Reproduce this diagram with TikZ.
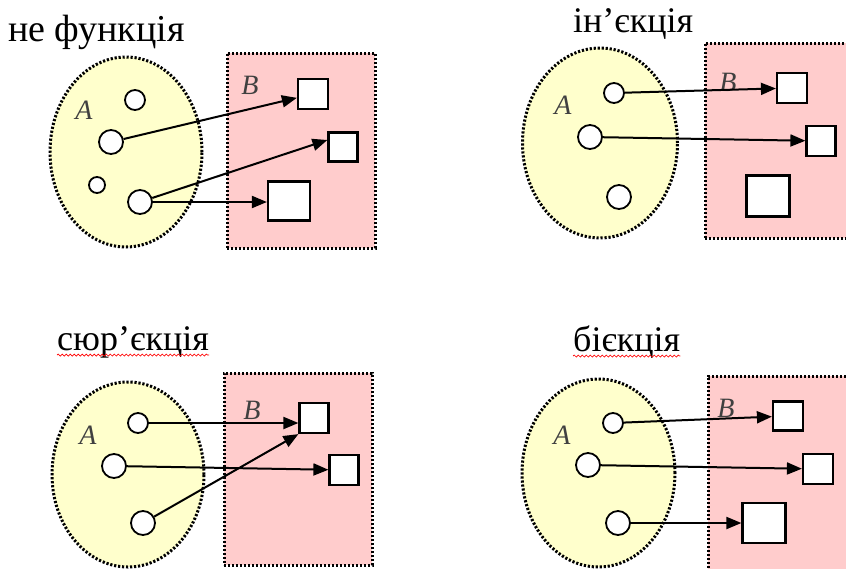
\documentclass[tikz,border=0pt]{standalone}
\usepackage{fontspec}
\newfontfamily\tnr{LiberationSerif}[Extension=.ttf,UprightFont=*-Regular,ItalicFont=*-Italic,BoldFont=*-Bold]
\usetikzlibrary{arrows.meta,calc,decorations.pathmorphing,shapes.geometric}
\definecolor{setyellow}{RGB}{255,255,204}
\definecolor{setpink}{RGB}{255,204,204}
\definecolor{labgray}{RGB}{64,64,64}
\begin{document}
\begin{tikzpicture}[x=1pt,y=1pt,
  dotborder/.style={draw=black,line width=3pt,dash pattern=on 2.2pt off 1.8pt},
  setA/.style={ellipse,dotborder,fill=setyellow,inner sep=0pt},
  setB/.style={rectangle,dotborder,fill=setpink,inner sep=0pt},
  elem/.style={circle,draw=black,line width=1.8pt,fill=white,inner sep=0pt,minimum size=#1},
  img/.style={rectangle,draw=black,line width=2.2pt,fill=white,inner sep=0pt},
  arr/.style={draw=black,line width=2pt,-{Triangle[length=15pt,width=12pt]}},
  setlab/.style={font=\tnr\fontsize{28}{28}\selectfont\itshape,text=labgray,inner sep=0pt},
  ttl/.style={anchor=base west,inner sep=0pt,font=\tnr\fontsize{#1}{#1}\selectfont},
  squig/.style={draw=red,line width=0.7pt,decorate,decoration={snake,amplitude=1pt,segment length=4pt}}
]
\useasboundingbox (0,0) rectangle (846,-568);
\clip (0,0) rectangle (846,-568);

% ---------- top-left: не функція ----------
\node[ttl=38] (t1) at (8,-41) {не функція};
\node[setA,minimum width=152pt,minimum height=190pt] (A1) at (126,-152) {};
\node[setB,minimum width=148pt,minimum height=195pt] (B1) at (301,-150.5) {};
\node[setlab] (la1) at (84,-110) {A};
\node[setlab] (lb1) at (250,-85) {B};
\node[img,minimum width=30pt,minimum height=30pt] (q1b1) at (313,-94) {};
\node[img,minimum width=29pt,minimum height=29pt] (q1b2) at (343,-147) {};
\node[img,minimum width=42pt,minimum height=39pt] (q1b3) at (289,-201) {};
\node[elem=20pt] (q1a1) at (135,-100) {};
\node[elem=24pt] (q1a2) at (111,-142) {};
\node[elem=16pt] (q1a3) at (97,-185) {};
\node[elem=24pt] (q1a4) at (140,-202) {};
\draw[arr] (q1a2) -- (q1b1);
\draw[arr] (q1a4) -- ($(q1b2.west)+(0,7)$);
\draw[arr] (q1a4) -- (q1a4 -| q1b3.west);

% ---------- top-right: ін'єкція ----------
\node[ttl=36] (t2) at (573,-32) {ін’єкція};
\node[setA,minimum width=155pt,minimum height=190pt] (A2) at (600,-143) {};
\node[setB,minimum width=200pt,minimum height=195pt] (B2) at (805,-140.5) {};
\node[setlab] (la2) at (563,-105) {A};
\node[setlab] (lb2) at (728,-82) {B};
\node[img,minimum width=30pt,minimum height=30pt] (q2b1) at (792,-88) {};
\node[img,minimum width=29pt,minimum height=30pt] (q2b2) at (821,-141) {};
\node[img,minimum width=43pt,minimum height=41pt] (q2b3) at (768,-196) {};
\node[elem=20pt] (q2a1) at (614,-93) {};
\node[elem=24pt] (q2a2) at (590,-137) {};
\node[elem=24pt] (q2a3) at (619,-197) {};
\draw[arr] (q2a1) -- (q2b1);
\draw[arr] (q2a2) -- (q2b2);

% ---------- bottom-left: сюр'єкція ----------
\node[ttl=36] (t3) at (57,-350) {сюр’єкція};
\draw[squig] ($(t3.base west)+(0,-5)$) -- ($(t3.base east)+(0,-5)$);
\node[setA,minimum width=152pt,minimum height=185pt] (A3) at (128,-474.5) {};
\node[setB,minimum width=148pt,minimum height=192pt] (B3) at (298,-469) {};
\node[setlab] (la3) at (88,-435) {A};
\node[setlab] (lb3) at (252,-410) {B};
\node[img,minimum width=29pt,minimum height=30pt] (q3b1) at (314,-418) {};
\node[img,minimum width=29pt,minimum height=30pt] (q3b2) at (344,-470) {};
\node[elem=20pt] (q3a1) at (138,-423) {};
\node[elem=24pt] (q3a2) at (114,-466) {};
\node[elem=24pt] (q3a3) at (143,-523) {};
\draw[arr] (q3a1) -- (q3a1 -| q3b1.west);
\draw[arr] (q3a3) -- (q3b1.south west);
\draw[arr] (q3a2) -- (q3b2);

% ---------- bottom-right: бієкція ----------
\node[ttl=36] (t4) at (573,-351) {бієкція};
\draw[squig] ($(t4.base west)+(0,-5)$) -- ($(t4.base east)+(0,-5)$);
\node[setA,minimum width=153pt,minimum height=188pt] (A4) at (598.5,-473) {};
\node[setB,minimum width=200pt,minimum height=230pt] (B4) at (808,-491) {};
\node[setlab] (la4) at (562,-435) {A};
\node[setlab] (lb4) at (726,-408) {B};
\node[img,minimum width=30pt,minimum height=29pt] (q4b1) at (788,-416) {};
\node[img,minimum width=30pt,minimum height=30pt] (q4b2) at (818,-469) {};
\node[img,minimum width=43pt,minimum height=40pt] (q4b3) at (764,-523) {};
\node[elem=20pt] (q4a1) at (613,-423) {};
\node[elem=24pt] (q4a2) at (588,-465) {};
\node[elem=24pt] (q4a3) at (618,-523) {};
\draw[arr] (q4a1) -- (q4b1);
\draw[arr] (q4a2) -- (q4b2);
\draw[arr] (q4a3) -- (q4b3);
\end{tikzpicture}
\end{document}
